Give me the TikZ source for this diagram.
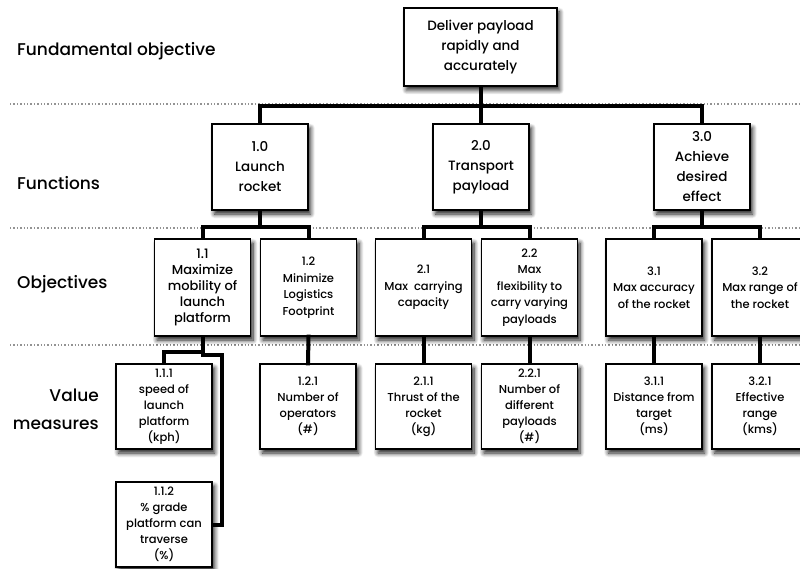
\documentclass[tikz,border=0pt]{standalone}
\usepackage{fontspec}
\IfFontExistsTF{Poppins Medium}{\setmainfont{Poppins Medium}}{\setmainfont{Poppins}}
\usetikzlibrary{shadows.blur}

\tikzset{
  box/.style={draw=black, line width=1.3pt, fill=white, inner sep=0pt,
    align=center, minimum width=96pt,
    blur shadow={shadow xshift=2.5pt, shadow yshift=-4pt, shadow blur radius=4.5pt, shadow blur steps=8, shadow opacity=90}},
  bigbox/.style={box, font=\fontsize{13.5}{20}\selectfont},
  smallbox/.style={box, minimum height=97pt, font=\fontsize{11.5}{16.5}\selectfont},
  valbox/.style={box, minimum height=85pt, font=\fontsize{11.5}{16}\selectfont},
  conn/.style={line width=4pt, line join=miter, line cap=rect},
  sep/.style={line width=1.2pt, gray!85, dash pattern=on 1.4pt off 2pt},
  rowlabel/.style={font=\fontsize{17}{28}\selectfont, inner sep=0pt}
}

\begin{document}
\begin{tikzpicture}[x=1pt, y=-1pt]
\useasboundingbox (0,0) rectangle (800,569);
\clip (0,0) rectangle (800,569);

% row separators
\draw[sep] (10,104) -- (800,104);
\draw[sep] (10,228) -- (800,228);
\draw[sep] (10,345) -- (800,345);

% row labels
\node[rowlabel, anchor=west] (lfund) at (17,51) {Fundamental objective};
\node[rowlabel, anchor=west] (lfunc) at (17,183) {Functions};
\node[rowlabel, anchor=west] (lobj) at (17,284) {Objectives};
\node[rowlabel, anchor=east, align=right] (lval) at (99,409) {Value\\measures};

% fundamental objective
\node[bigbox, minimum width=153pt, minimum height=78pt] (top) at (480.5,47) {Deliver payload\\rapidly and\\accurately};

% functions
\node[bigbox, minimum height=86pt] (f1) at (260,167) {1.0\\Launch\\rocket};
\node[bigbox, minimum height=86pt] (f2) at (481,167) {2.0\\Transport\\payload};
\node[bigbox, minimum height=86pt] (f3) at (702,167) {3.0\\Achieve\\desired\\effect};

% objectives
\node[smallbox, font=\fontsize{13}{16}\selectfont] (o11) at (202.5,287.5) {1.1\\Maximize\\mobility of\\launch\\platform};
\node[smallbox] (o12) at (308.5,287.5) {1.2\\Minimize\\Logistics\\Footprint};
\node[smallbox] (o21) at (423.5,287.5) {2.1\\Max\ \ carrying\\capacity};
\node[smallbox] (o22) at (529.5,287.5) {2.2\\Max\\flexibility to\\carry varying\\payloads};
\node[smallbox] (o31) at (654,287.5) {3.1\\Max accuracy\\of the rocket};
\node[smallbox] (o32) at (760,287.5) {3.2\\Max range of\\the rocket};

% value measures
\node[valbox] (v111) at (164,406.5) {1.1.1\\speed of\\launch\\platform\\(kph)};
\node[valbox] (v112) at (164,524.5) {1.1.2\\\% grade\\platform can\\traverse\\(\%)};
\node[valbox] (v121) at (308,406.5) {1.2.1\\Number of\\operators\\(\#)};
\node[valbox] (v211) at (423.5,406.5) {2.1.1\\Thrust of the\\rocket\\(kg)};
\node[valbox] (v221) at (529.5,406.5) {2.2.1\\Number of\\different\\payloads\\(\#)};
\node[valbox] (v311) at (654,406.5) {3.1.1\\Distance from\\target\\(ms)};
\node[valbox] (v321) at (760,406.5) {3.2.1\\Effective\\range\\(kms)};

% fundamental objective to functions
\draw[conn] (top.south) -- (top.south |- 0,106);
\draw[conn] (f1.north) -- (f1.north |- 0,106) -- (f3.north |- 0,106) -- (f3.north);
\draw[conn] (f2.north) -- (f2.north |- 0,106);

% functions to objectives
\draw[conn] (f1.south) -- (f1.south |- 0,227);
\draw[conn] (o11.north) -- (o11.north |- 0,227) -- (o12.north |- 0,227) -- (o12.north);
\draw[conn] (f2.south) -- (f2.south |- 0,227);
\draw[conn] (o21.north) -- (o21.north |- 0,227) -- (o22.north |- 0,227) -- (o22.north);
\draw[conn] (f3.south) -- (f3.south |- 0,227);
\draw[conn] (o31.north) -- (o31.north |- 0,227) -- (o32.north |- 0,227) -- (o32.north);

% objectives to value measures
\coordinate (split) at (202.5,352);
\coordinate (bend) at (222,355);
\draw[conn] (o11.south) -- (split);
\draw[conn] (v111.north) -- (v111.north |- split) -- (split);
\draw[conn] (o11.south |- bend) -- (bend) -- (bend |- v112.east) -- (v112.east);
\draw[conn] (o12.south) -- (v121.north);
\draw[conn] (o21.south) -- (v211.north);
\draw[conn] (o22.south) -- (v221.north);
\draw[conn] (o31.south) -- (v311.north);
\draw[conn] (o32.south) -- (v321.north);
\end{tikzpicture}
\end{document}
